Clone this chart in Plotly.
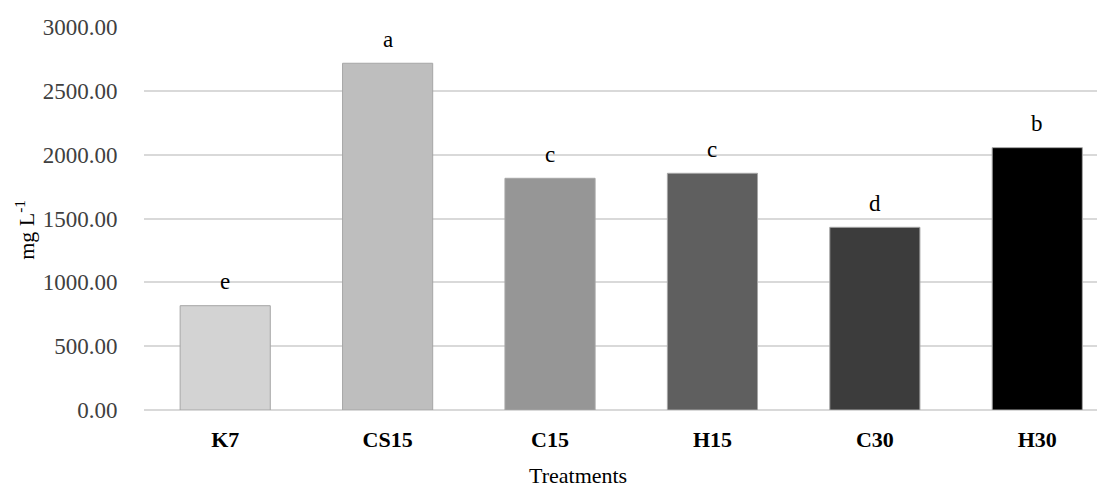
import plotly.graph_objects as go

treatments = ["K7", "CS15", "C15", "H15", "C30", "H30"]
values = [817, 2716, 1815, 1854, 1431, 2055]
letters = ["e", "a", "c", "c", "d", "b"]
colors = ["#d3d3d3", "#bebebe", "#969696", "#5f5f5f", "#3c3c3c", "#000000"]
y_ticks = [0, 500, 1000, 1500, 2000, 2500, 3000]
y_ticktext = [f"{v:.2f}" for v in y_ticks]

fig = go.Figure()
fig.add_trace(go.Bar(
    x=treatments, y=values, width=0.555,
    marker=dict(color=colors, line=dict(color="#a6a6a6", width=1)),
    showlegend=False, hoverinfo="skip",
))

for t, v, l in zip(treatments, values, letters):
    fig.add_annotation(x=t, y=v, text=l, showarrow=False, yanchor="middle", yshift=24,
                       font=dict(family="Liberation Serif", size=23, color="#000000"))

# axis titles
fig.add_annotation(xref="paper", yref="paper", x=0.4516, y=-0.172, yanchor="middle",
                   text="Treatments", showarrow=False,
                   font=dict(family="Liberation Serif", size=22, color="#000000"))
fig.add_annotation(xref="paper", yref="paper", x=-0.124, y=0.47, xanchor="center", yanchor="middle",
                   text="mg L<sup>-1</sup>", textangle=-90, showarrow=False,
                   font=dict(family="Liberation Serif", size=22, color="#000000"))

fig.update_layout(
    width=1105, height=488,
    margin=dict(l=136, r=8, t=19, b=86),
    plot_bgcolor="white", paper_bgcolor="white",
    font=dict(family="Liberation Serif", color="#000000"),
    xaxis=dict(
        range=[-0.5, 5.417], showgrid=False, showline=False, zeroline=False,
        tickfont=dict(family="Liberation Serif", size=22, color="#000000", weight="bold"),
        ticks="outside", tickcolor="white", ticklen=10,
    ),
    yaxis=dict(
        range=[0, 3000], tickvals=y_ticks, ticktext=y_ticktext,
        showgrid=True, gridcolor="#d9d9d9", gridwidth=1.5, zeroline=True, zerolinecolor="#d9d9d9", zerolinewidth=1.5,
        showline=False,
        tickfont=dict(family="Liberation Serif", size=23, color="#404040"),
        ticks="outside", tickcolor="white", ticklen=21,
    ),
)

fig.write_html("out.html")
